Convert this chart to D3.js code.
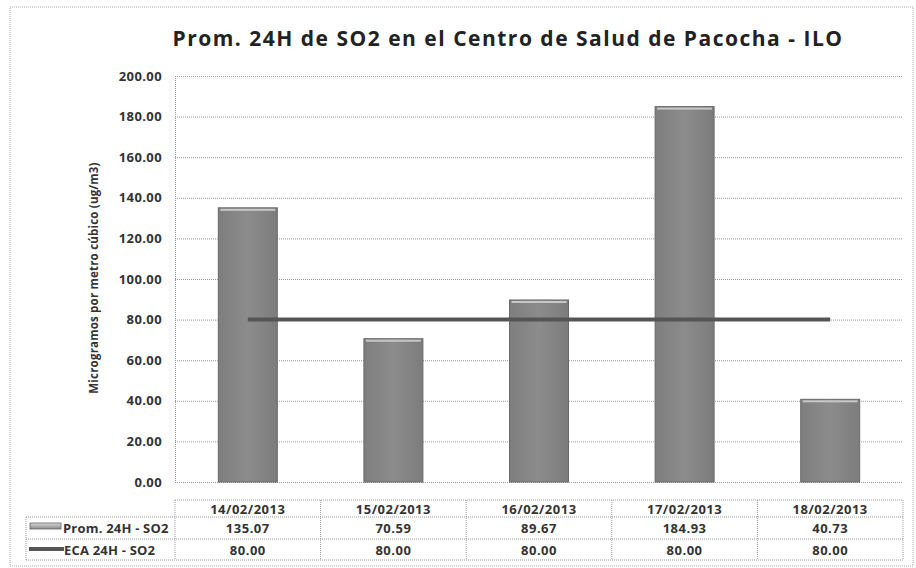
<!DOCTYPE html>
<html>
<head>
<meta charset="utf-8">
<script src="https://cdn.jsdelivr.net/npm/d3@7"></script>
<style>
body{margin:0;background:#fff;}
svg{display:block;font-family:"Open Sans",sans-serif;}
</style>
</head>
<body>
<div id="chart"></div>
<script>
const dates=["14/02/2013","15/02/2013","16/02/2013","17/02/2013","18/02/2013"];
const promSO2=[135.07,70.59,89.67,184.93,40.73];
const ecaSO2=[80.00,80.00,80.00,80.00,80.00];
const yTicks=[0,20,40,60,80,100,120,140,160,180,200];
const seriesNames=["Prom. 24H - SO2","ECA 24H - SO2"];

const W=916,H=568;
const plot={left:175,right:903,top:76,bottom:482};

const svg=d3.select("#chart").append("svg").attr("width",W).attr("height",H);

const defs=svg.append("defs");
const grad=defs.append("linearGradient").attr("id","barGrad").attr("x1","0").attr("x2","1");
grad.append("stop").attr("offset","0%").attr("stop-color","#7e7e7e");
grad.append("stop").attr("offset","50%").attr("stop-color","#8c8c8c");
grad.append("stop").attr("offset","100%").attr("stop-color","#7c7c7c");
const keyGrad=defs.append("linearGradient").attr("id","keyGrad").attr("x1","0").attr("x2","0").attr("y1","0").attr("y2","1");
keyGrad.append("stop").attr("offset","0%").attr("stop-color","#d8d8d8");
keyGrad.append("stop").attr("offset","100%").attr("stop-color","#8a8a8a");

// outer border
svg.append("rect").attr("x",10).attr("y",7).attr("width",903).attr("height",559)
    .attr("fill","none").attr("stroke","#aaa").attr("stroke-dasharray","1,1");

svg.append("text").attr("x",508).attr("y",46).attr("text-anchor","middle")
    .attr("font-size","21px").attr("font-weight","700").attr("fill","#222")
    .attr("letter-spacing","1.5px")
    .text("Prom. 24H de SO2 en el Centro de Salud de Pacocha - ILO");

const x=d3.scaleBand().domain(dates).range([plot.left,plot.right]).paddingInner(0).paddingOuter(0);
const y=d3.scaleLinear().domain([0,200]).range([plot.bottom,plot.top]);

// gridlines
svg.append("g").selectAll("line").data(yTicks).join("line")
    .attr("x1",plot.left).attr("x2",plot.right)
    .attr("y1",d=>y(d)+0.5).attr("y2",d=>y(d)+0.5)
    .attr("stroke","#999").attr("stroke-dasharray","1,1");
svg.append("line").attr("x1",plot.left+0.5).attr("x2",plot.left+0.5)
    .attr("y1",plot.top).attr("y2",plot.bottom).attr("stroke","#999").attr("stroke-dasharray","1,1");

// y axis
const yAxis=d3.axisLeft(y).tickValues(yTicks).tickFormat(d3.format(".2f")).tickSize(0).tickPadding(13);
const gy=svg.append("g").attr("transform",`translate(${plot.left},0)`).call(yAxis);
gy.select(".domain").remove();
gy.selectAll("text").attr("font-size","13px").attr("font-weight","700").attr("fill","#333")
    .attr("letter-spacing","0.4px").attr("font-family","'Open Sans',sans-serif");

svg.append("text").attr("transform",`translate(98,${(plot.top+plot.bottom)/2-1}) rotate(-90)`)
    .attr("text-anchor","middle").attr("font-size","11.5px").attr("font-weight","700").attr("fill","#333")
    .attr("letter-spacing","0.2px")
    .text("Microgramos por metro cúbico (ug/m3)");

// bars
const bw=59;
const bars=svg.append("g").selectAll("g").data(promSO2).join("g");
bars.append("rect")
    .attr("x",(d,i)=>x(dates[i])+x.bandwidth()/2-bw/2)
    .attr("y",d=>y(d))
    .attr("width",bw).attr("height",d=>y(0)-y(d))
    .attr("fill","url(#barGrad)").attr("stroke","#6a6a6a").attr("stroke-width",1);
bars.append("rect")
    .attr("x",(d,i)=>x(dates[i])+x.bandwidth()/2-bw/2+2)
    .attr("y",d=>y(d)+1)
    .attr("width",bw-4).attr("height",2)
    .attr("fill","#c8c8c8");

// ECA line
const line=d3.line().x((d,i)=>x(dates[i])+x.bandwidth()/2).y(d=>y(d));
svg.append("path").datum(ecaSO2).attr("d",line)
    .attr("fill","none").attr("stroke","#555").attr("stroke-width",4);

// data table
const rowY=[500,517,539,560];
const tbl=svg.append("g").attr("font-size","13px").attr("font-weight","700").attr("fill","#333")
    .attr("letter-spacing","0.5px");
const tStroke="#999";
tbl.append("line").attr("x1",plot.left).attr("x2",plot.right).attr("y1",rowY[0]).attr("y2",rowY[0]).attr("stroke",tStroke).attr("stroke-dasharray","1,1");
[1,2,3].forEach(r=>{
    tbl.append("line").attr("x1",26).attr("x2",plot.right).attr("y1",rowY[r]).attr("y2",rowY[r]).attr("stroke",tStroke).attr("stroke-dasharray","1,1");
});
tbl.append("line").attr("x1",26).attr("x2",26).attr("y1",rowY[1]).attr("y2",rowY[3]).attr("stroke",tStroke).attr("stroke-dasharray","1,1");
dates.forEach((d,i)=>{
    tbl.append("line").attr("x1",x(d)).attr("x2",x(d)).attr("y1",rowY[0]).attr("y2",rowY[3]).attr("stroke",tStroke).attr("stroke-dasharray","1,1");
});
tbl.append("line").attr("x1",plot.right).attr("x2",plot.right).attr("y1",rowY[0]).attr("y2",rowY[3]).attr("stroke",tStroke).attr("stroke-dasharray","1,1");

const fmt=d3.format(".2f");
const cx=d=>x(d)+x.bandwidth()/2;
tbl.selectAll(".hdr").data(dates).join("text").attr("class","hdr")
    .attr("x",d=>cx(d)).attr("y",rowY[0]+13.5).attr("text-anchor","middle").text(d=>d);
tbl.selectAll(".r1").data(promSO2).join("text").attr("class","r1")
    .attr("x",(d,i)=>cx(dates[i])).attr("y",rowY[1]+15.5).attr("text-anchor","middle").text(d=>fmt(d));
tbl.selectAll(".r2").data(ecaSO2).join("text").attr("class","r2")
    .attr("x",(d,i)=>cx(dates[i])).attr("y",rowY[2]+15.5).attr("text-anchor","middle").text(d=>fmt(d));

// legend keys
tbl.append("rect").attr("x",30).attr("y",rowY[1]+6).attr("width",31).attr("height",6)
    .attr("fill","url(#keyGrad)").attr("stroke","#666").attr("stroke-width",0.8);
tbl.append("line").attr("x1",29).attr("x2",64).attr("y1",rowY[2]+10).attr("y2",rowY[2]+10)
    .attr("stroke","#555").attr("stroke-width",4);
tbl.append("text").attr("x",63).attr("y",rowY[1]+15.5).attr("letter-spacing","0.2px").text(seriesNames[0]);
tbl.append("text").attr("x",64).attr("y",rowY[2]+15.5).attr("letter-spacing","0.2px").text(seriesNames[1]);
</script>
</body>
</html>
